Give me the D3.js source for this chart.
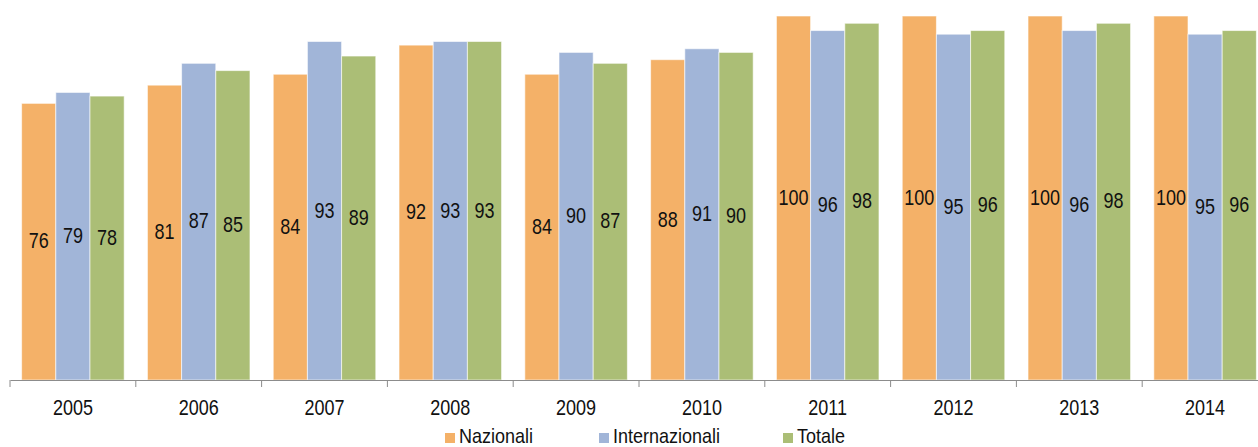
<!DOCTYPE html>
<html>
<head>
<meta charset="utf-8">
<script src="https://cdn.jsdelivr.net/npm/d3@7"></script>
<style>
  body { margin: 0; background: #fff; }
  svg { display: block; font-family: "Liberation Sans", Arial, sans-serif; }
</style>
</head>
<body>
<div id="chart"></div>
<script>
const width = 1258
const height = 447

// dati
const years = ["2005", "2006", "2007", "2008", "2009", "2010", "2011", "2012", "2013", "2014"]
const seriesNames = ["Nazionali", "Internazionali", "Totale"]
const nazionali = [76, 81, 84, 92, 84, 88, 100, 100, 100, 100]
const internazionali = [79, 87, 93, 93, 90, 91, 96, 95, 96, 95]
const totale = [78, 85, 89, 93, 87, 90, 98, 96, 98, 96]
const colors = ["#F4B168", "#A1B5D8", "#ABBE76"]

const seriesValues = [nazionali, internazionali, totale]

const svg = d3.select("#chart").append("svg").attr("width", width).attr("height", height)

// escalas
const x0 = d3.scaleBand().domain(years).range([10, 1268]).padding(0)
const x1 = d3.scaleBand().domain(seriesNames).range([0, x0.bandwidth()]).paddingInner(0).paddingOuter(0.34)
const y = d3.scaleLinear().domain([0, 100]).range([380, 16])
const color = d3.scaleOrdinal().domain(seriesNames).range(colors)

const rows = years.map((yr, i) => ({
    year: yr,
    values: seriesNames.map((s, j) => ({ key: s, value: seriesValues[j][i] }))
}))

const groups = svg.append("g").selectAll("g").data(rows).enter()
    .append("g")
    .attr("transform", d => `translate(${x0(d.year)}, 0)`)

groups.selectAll("rect").data(d => d.values).enter()
    .append("rect")
    .attr("x", d => x1(d.key))
    .attr("y", d => y(d.value))
    .attr("width", x1.bandwidth())
    .attr("height", d => y(0) - y(d.value))
    .attr("fill", d => color(d.key))
    .attr("stroke", "#fff")
    .attr("stroke-opacity", 0.6)
    .attr("stroke-width", 1)

// etichette dei valori
groups.selectAll("text").data(d => d.values).enter()
    .append("text")
    .attr("transform", d => `translate(${x1(d.key) + x1.bandwidth() / 2}, ${(y(d.value) + y(0)) / 2}) scale(1,1.25)`)
    .attr("text-anchor", "middle")
    .attr("dy", "0.3em")
    .attr("font-size", 18)
    .attr("fill", "#111")
    .text(d => d.value)

// asse x
const xAxisGroup = svg.append("g").attr("transform", `translate(0, ${y(0)})`)
xAxisGroup.call(d3.axisBottom(x0).tickSize(0).tickSizeOuter(0))
xAxisGroup.select(".domain").attr("stroke", "#8c8c8c")
xAxisGroup.selectAll(".tick text")
    .attr("y", 0)
    .attr("dy", 0)
    .attr("transform", "translate(0, 35) scale(1,1.25)")
    .attr("font-size", 18)
    .attr("font-family", "Liberation Sans, Arial, sans-serif")
    .attr("fill", "#111")

xAxisGroup.selectAll("line.sep").data(years).enter()
    .append("line")
    .attr("class", "sep")
    .attr("x1", d => x0(d))
    .attr("x2", d => x0(d))
    .attr("y1", 0)
    .attr("y2", 7)
    .attr("stroke", "#8c8c8c")

// legenda
const legendX = [445, 599, 783]
const legend = svg.append("g").selectAll("g").data(seriesNames).enter()
    .append("g")
    .attr("transform", (d, i) => `translate(${legendX[i]}, 433)`)

legend.append("rect")
    .attr("width", 10)
    .attr("height", 10)
    .attr("fill", d => color(d))

legend.append("text")
    .attr("transform", "translate(14, 9.5) scale(1,1.15)")
    .attr("font-size", 18)
    .attr("fill", "#111")
    .text(d => d)
</script>
</body>
</html>
